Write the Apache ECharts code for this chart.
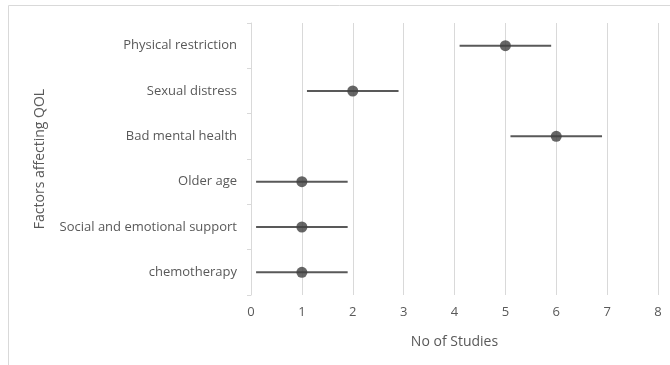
<!DOCTYPE html>
<html><head><meta charset="utf-8">
<script src="https://cdn.jsdelivr.net/npm/echarts@6/dist/echarts.min.js"></script>
<style>html,body{margin:0;padding:0;background:#fff}#c{width:670px;height:365px}</style>
</head><body><div id="c"></div>
<script>
var categories = ['Physical restriction','Sexual distress','Bad mental health','Older age','Social and emotional support','chemotherapy'];
var values = [5, 2, 6, 1, 1, 1];
var lows = [4.1, 1.1, 5.1, 0.1, 0.1, 0.1];
var highs = [5.9, 2.9, 6.9, 1.9, 1.9, 1.9];
var xTicks = [0,1,2,3,4,5,6,7,8];

var font = 'Open Sans';
var txt = '#595959';
var chart = echarts.init(document.getElementById('c'));
var errData = categories.map(function(c,i){ return [lows[i], highs[i], c]; });
chart.setOption({
  animation: false,
  graphic: [{type:'rect', shape:{x:8.5,y:5.5,width:700,height:400}, style:{fill:'none', stroke:'#d9d9d9', lineWidth:1}, silent:true}],
  grid: {left: 251, right: 12, top: 23, bottom: 70},
  xAxis: {
    type: 'value', min: 0, max: 8, interval: 1,
    name: 'No of Studies', nameLocation: 'middle', nameGap: 40,
    nameTextStyle: {color: txt, fontFamily: font, fontSize: 14},
    axisLine: {show: false}, axisTick: {show: false},
    axisLabel: {color: txt, fontFamily: font, fontSize: 13, margin: 11, formatter: function(v){ return xTicks.indexOf(v) >= 0 ? String(v) : ''; }},
    splitLine: {show: true, lineStyle: {color: '#d9d9d9', width: 1}}
  },
  yAxis: {
    type: 'category', data: categories, inverse: true, boundaryGap: true,
    name: 'Factors affecting QOL', nameLocation: 'middle', nameGap: 204,
    nameTextStyle: {color: txt, fontFamily: font, fontSize: 14},
    axisLine: {show: true, lineStyle: {color: '#d9d9d9'}},
    axisTick: {show: true, length: 4, lineStyle: {color: '#d9d9d9'}},
    axisLabel: {color: txt, fontFamily: font, fontSize: 13, margin: 14},
    splitLine: {show: false}
  },
  series: [
    {
      type: 'custom', data: errData, encode: {x: [0,1], y: 2}, z: 2,
      renderItem: function(params, api){
        var p1 = api.coord([api.value(0), api.value(2)]);
        var p2 = api.coord([api.value(1), api.value(2)]);
        return {type:'line', shape:{x1:p1[0], y1:p1[1], x2:p2[0], y2:p2[1]}, style:{stroke:'#595959', lineWidth:2}};
      }
    },
    {
      type: 'scatter', data: values.map(function(v,i){ return [v, categories[i]]; }),
      symbol: 'circle', symbolSize: 11, z: 3,
      itemStyle: {color: '#404040'}
    }
  ]
});
</script></body></html>
